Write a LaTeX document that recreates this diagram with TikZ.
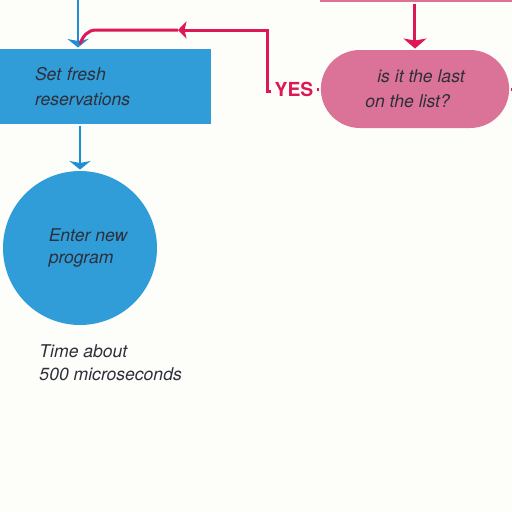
\documentclass[tikz,border=0pt]{standalone}
\usepackage{fontspec}
\setmainfont{TeX Gyre Heros}
\usetikzlibrary{arrows.meta,shapes.misc}
\definecolor{paper}{RGB}{253,253,250}
\definecolor{bfill}{RGB}{48,156,216}
\definecolor{bline}{RGB}{32,142,210}
\definecolor{pfill}{RGB}{219,114,152}
\definecolor{pline}{RGB}{222,24,88}
\definecolor{ink}{RGB}{45,48,58}

\begin{document}
\begin{tikzpicture}[x=0.02cm,y=-0.02cm,line width=0.06cm,
  font=\fontsize{10}{13}\selectfont\itshape]
\tikzstyle{box}=[rectangle,fill=bfill,text=ink,minimum width=4.22cm,minimum height=1.5cm,
  text width=2.82cm,inner xsep=0.7cm,align=left]
\tikzstyle{circ}=[circle,fill=bfill,text=ink,minimum size=3.08cm,inner sep=0pt,align=left]
\tikzstyle{pill}=[rounded rectangle,fill=pfill,text=ink,minimum width=4.0cm,minimum height=1.56cm,align=left]
\tikzstyle{bl}=[draw=bline,-{Stealth[length=0.17cm,width=0.42cm,inset=0.04cm]}]
\tikzstyle{pl}=[draw=pline,-{Stealth[length=0.2cm,width=0.46cm,inset=0.04cm]}]
\useasboundingbox (0,0) rectangle (512,512);
\clip (0,0) rectangle (512,512);
\fill[paper] (0,0) rectangle (512,512);

\node[box]  (fresh) at (105.5,86.5) {Set fresh\\[1pt]reservations};
\node[circ] (enter) at (80,248)     {\hspace*{0.32cm}Enter new\\\hspace*{0.32cm}program};
\node[text=ink,align=left,anchor=west,inner sep=0pt] (time) at (38,363) {Time about\\500 microseconds};
\node[rectangle,fill=pfill,minimum width=3.84cm,minimum height=0.88cm,inner sep=0pt] (prev) at (416,-20) {};
\node[pill] (last) at (415,89) {\hspace*{0.24cm}is it the last\\[1pt]on the list?};
\node[text=pline,font=\fontsize{11}{13}\selectfont\bfseries,inner sep=1pt] (yes) at (294,89) {YES};

\coordinate (top)  at (78,-10);
\coordinate (ft)   at (268,91);
\coordinate (up)   at (268,30);
\coordinate (mid)  at (178,30);
\coordinate (join) at (96,30);
\coordinate (exit) at (520,89);

\path
(top) edge[bl] (top |- fresh.north)
(fresh.south -| enter.north) edge[bl] (enter.north)
(prev.south -| last.north) edge[pl] (last.north);

\draw[pline] (last.west) -- (yes.east);
\draw[pline] (last.east) -- (exit);
\draw[pline,-{Stealth[length=0.17cm,width=0.34cm,inset=0.04cm]}] (yes.west |- ft) -- (ft) -- (up) -- (mid);
\draw[pline] (mid) -- (join) to[out=180,in=70] (80,44);
\end{tikzpicture}
\end{document}
